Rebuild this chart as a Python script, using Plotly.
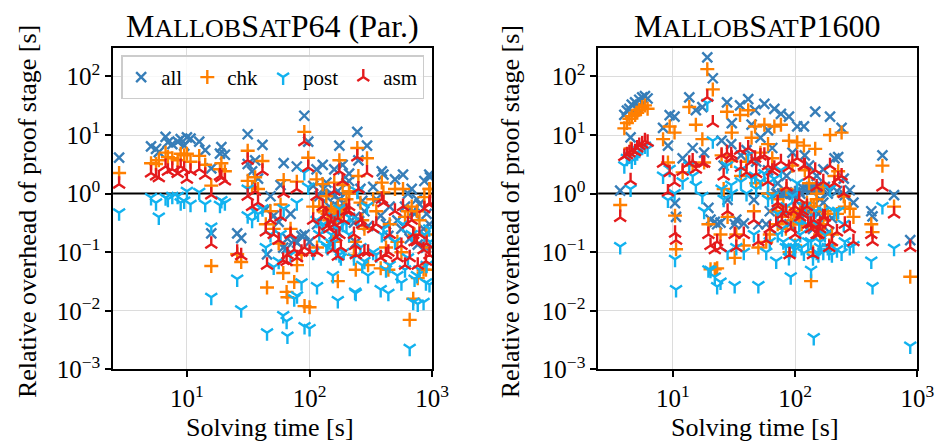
import plotly.graph_objects as go

# ---------------- data: MallobSatP64 (Par.) ----------------
p64_time = [2.8, 5.1, 5.6, 5.9, 6.7, 7.0, 7.6, 8.4, 8.9, 9.5, 10.0, 10.7, 12.6, 14.1, 15.8, 15.8, 18.6, 19.1, 20.4, 25.7, 27.7,
            31.3, 31.3, 41.3, 36, 34, 38, 44, 51, 45, 61, 65, 66, 75, 91, 100, 61.5, 78.7, 90.6, 97.5, 56, 70,
            114, 128, 159, 175, 186, 245, 294, 250, 388, 400, 497, 578, 863, 946, 634, 137, 210, 107,
            175, 269, 787, 718, 439, 561, 655, 762, 889, 238, 86, 79,
            150, 160, 170, 140, 190, 130, 210, 330, 300, 450, 520, 850, 960, 115, 170, 235, 380, 700, 950,
            120, 145, 165, 180, 200, 260, 280, 350, 420, 600, 680, 750, 900, 155, 230, 48, 58]
p64_all = [4.1, 6.4, 5.8, 5.1, 9.3, 7.5, 7.0, 7.7, 8.5, 6.6, 9.1, 8.7, 7.7, 5.5, 2.7, 0.21, 4.8, 6.2, 4.6, 0.21, 0.174,
           10.3, 3.2, 6.8, 3.7, 2.4, 1.8, 0.54, 0.42, 0.092, 0.12, 0.115, 0.17, 0.16, 0.2, 0.15, 3.3, 2.9, 21.3, 7.7, 0.33, 0.45,
           2.6, 3.1, 2.6, 6.6, 3.1, 11.3, 6.6, 3.7, 2.4, 2.1, 1.75, 2.1, 1.64, 2.1, 1.0, 1.54, 1.64, 1.35,
           0.79, 0.75, 0.66, 0.45, 0.19, 0.25, 0.17, 0.135, 0.12, 0.145, 0.19, 0.145,
           1.0, 0.9, 1.1, 0.85, 0.7, 1.2, 2.2, 1.3, 0.28, 0.6, 0.35, 0.25, 1.9, 0.3, 0.22, 0.4, 0.42, 0.5, 0.3,
           0.9, 0.6, 0.45, 0.55, 1.5, 1.2, 0.5, 0.8, 0.3, 0.6, 1.2, 0.8, 0.45, 0.35, 0.32, 0.9, 1.4]
p64_chk = [2.25, 3.3, 3.2, 3.7, 5.0, 4.2, 4.0, 3.7, 4.8, 4.5, 4.8, 3.5, 4.4, 3.1, 1.37, 0.058, 2.6, 3.3, 2.4, 0.092, 0.068,
           5.4, 1.65, 3.6, 1.9, 1.3, 1.2, 0.3, 0.25, 0.025, 0.044, 0.021, 0.017, 0.031, 0.012, 0.0115, 1.7, 1.6, 11.3, 4.1, 0.14, 0.25,
           1.75, 1.45, 1.54, 3.7, 1.4, 6.0, 4.0, 2.0, 1.54, 1.05, 1.2, 1.2, 0.87, 1.2, 0.5, 0.9, 1.0, 0.6,
           0.5, 0.35, 0.35, 0.2, 0.05, 0.1, 0.007, 0.036, 0.05, 0.05, 0.09, 0.06,
           0.55, 0.5, 0.6, 0.45, 0.55, 0.5, 1.1, 0.8, 0.06, 0.3, 0.15, 0.05, 1.2, 0.12, 0.032, 0.15, 0.053, 0.016, 0.12,
           0.6, 0.35, 0.4, 0.45, 0.8, 0.7, 0.25, 0.5, 0.12, 0.4, 0.6, 0.5, 0.2, 0.15, 0.09, 0.5, 0.65]
p64_post = [0.47, 0.86, 0.70, 0.40, 0.85, 0.80, 0.90, 0.90, 0.70, 0.75, 1.10, 0.66, 1.05, 0.66, 0.27, 0.017, 0.63, 0.76, 0.70, 0.035, 0.0104,
            1.2, 0.42, 0.55, 0.5, 0.35, 0.45, 0.12, 0.056, 0.0042, 0.0083, 0.0066, 0.0037, 0.016, 0.0054, 0.005, 0.55, 0.7, 2.3, 1.3, 0.07, 0.09,
            0.35, 0.28, 0.4, 0.55, 0.3, 1.1, 0.6, 0.35, 0.2, 0.25, 0.15, 0.3, 0.2, 0.25, 0.08, 0.13, 0.2, 0.1,
            0.09, 0.06, 0.05, 0.035, 0.02, 0.03, 0.0023, 0.013, 0.03, 0.02, 0.03, 0.018,
            0.2, 0.15, 0.25, 0.12, 0.1, 0.3, 0.4, 0.1, 0.04, 0.06, 0.04, 0.014, 0.15, 0.026, 0.015, 0.021, 0.023, 0.014, 0.028,
            0.2, 0.15, 0.1, 0.08, 0.3, 0.12, 0.07, 0.09, 0.05, 0.05, 0.2, 0.04, 0.06, 0.04, 0.08, 0.2, 0.2]
p64_asm = [1.45, 2.25, 2.0, 1.86, 2.9, 2.4, 2.6, 2.2, 2.9, 2.6, 1.75, 2.4, 2.6, 2.06, 0.95, 0.136, 2.0, 1.86, 1.64, 0.10, 0.087,
           3.7, 0.9, 2.4, 1.1, 0.6, 0.7, 0.22, 0.2, 0.06, 0.072, 0.069, 0.09, 0.11, 0.12, 0.1, 1.0, 1.2, 7.7, 2.8, 0.16, 0.2,
           0.9, 0.6, 1.1, 2.4, 1.64, 4.2, 2.25, 1.2, 0.8, 0.7, 0.5, 0.6, 0.55, 0.65, 0.3, 0.45, 0.5, 0.35,
           0.2, 0.3, 0.2, 0.15, 0.1, 0.13, 0.08, 0.06, 0.07, 0.09, 0.1, 0.08,
           0.33, 0.3, 0.38, 0.28, 0.35, 0.4, 0.6, 0.25, 0.1, 0.2, 0.08, 0.11, 0.7, 0.1, 0.085, 0.13, 0.08, 0.2, 0.09,
           0.2, 0.25, 0.18, 0.12, 0.5, 0.35, 0.1, 0.3, 0.09, 0.06, 0.35, 0.15, 0.14, 0.11, 0.2, 0.35, 0.4]

# ---------------- data: MallobSatP1600 ----------------
p1600_time = [3.7, 4.0, 4.2, 4.4, 4.6, 4.5, 4.9, 5.1, 5.3, 5.6, 5.9, 6.2, 8.3, 9.4, 10.3, 10.4, 10.6, 9.1, 13.6, 15.4,
              17.4, 19.1, 21.2, 19.5, 20.3, 22, 23, 24.5, 18, 27.7, 30.3, 28, 32, 35.4, 41.3, 44, 47, 50, 56, 60,
              67.6, 70, 76.5, 80, 89, 92, 97, 104, 110, 118, 125, 135, 142, 146, 150, 160, 175, 193, 210, 225,
              240, 255, 280, 420, 430, 518, 645, 875, 33, 38, 46, 58, 62, 72, 85, 100, 113, 128, 155, 170,
              200, 130, 120, 95, 65, 40, 25, 30, 52,
              72, 78, 84, 108, 115, 135, 160, 185, 220, 60, 48, 36, 26, 14.5, 12, 150, 170, 250, 300, 90, 140, 190, 100]
p1600_all = [1.12, 22, 26, 28, 33, 9.1, 36, 30, 40, 44, 46, 42, 13.2, 21.9, 20.6, 0.69, 0.4, 6.6, 43.9, 26.5,
             30, 212, 93, 0.57, 0.36, 0.33, 0.3, 0.32, 5.0, 36, 16, 0.78, 0.3, 32, 41, 15, 26.5, 0.3, 34, 12,
             28, 1.0, 23, 1.0, 20.6, 1.0, 0.95, 14, 1.0, 14, 1.2, 1.3, 1.3, 25, 1.2, 0.8, 1.3, 20.6, 4.0, 4.2,
             13.2, 0.94, 1.14, 0.5, 0.41, 4.5, 0.94, 0.16, 0.36, 0.31, 0.78, 0.3, 0.5, 1.5, 2.0, 1.05, 0.6, 0.5, 0.45, 0.7,
             0.38, 3.0, 4.5, 5.0, 6.0, 5.5, 8, 7, 9.0,
             1.0, 1.0, 0.98, 1.1, 1.25, 1.15, 1.2, 1.0, 1.1, 2.5, 3.5, 4.5, 3.0, 6.0, 4.0, 2.0, 2.6, 1.8, 0.7, 0.3, 0.25, 0.22, 0.4]
p1600_chk = [0.64, 13, 16, 19, 21, 5.9, 22, 24, 27, 30, 32, 28, 8.5, 14, 11, 0.42, 0.112, 3.4, 30, 15,
             8.5, 133, 60, 0.3, 0.051, 0.051, 0.053, 0.2, 3.4, 25, 11, 0.4, 0.08, 22, 26.5, 9, 14, 0.12, 15, 7,
             14, 0.5, 15, 0.6, 8, 0.45, 0.35, 7.5, 0.5, 6.6, 0.7, 0.032, 0.6, 5.8, 0.8, 0.3, 0.5, 10, 2.0, 2.4,
             11, 0.6, 0.55, 0.3, 0.22, 3.0, 0.6, 0.038, 0.2, 0.13, 0.5, 0.15, 0.2, 0.8, 1.2, 0.5, 0.3, 0.3, 0.25, 0.35,
             0.2, 1.5, 2.5, 3.0, 4.0, 3.5, 4.5, 3.6, 5.0,
             0.3, 0.4, 0.25, 0.3, 0.45, 0.6, 0.2, 0.45, 0.45, 1.0, 1.5, 2.0, 1.2, 3.0, 2.3, 1.0, 1.3, 0.9, 0.4, 0.1, 0.1, 0.13, 0.13]
p1600_post = [0.125, 3.0, 4.0, 4.4, 3.6, 1.2, 4.2, 5.0, 5.5, 6.2, 6.5, 5.8, 2.0, 2.6, 1.0, 0.076, 0.023, 0.78, 3.0, 1.38,
              0.9, 35, 8, 0.05, 0.049, 0.038, 0.026, 0.031, 0.5, 3.0, 1.0, 0.1, 0.027, 2.5, 4.5, 1.8, 2.0, 0.027, 2.2, 1.5,
              1.8, 0.071, 2.5, 0.15, 0.081, 0.038, 0.12, 1.5, 0.2, 0.097, 0.3, 0.049, 0.0035, 0.5, 0.1, 0.12, 0.2, 1.2, 0.5, 0.5,
              0.097, 0.15, 0.12, 0.071, 0.026, 0.6, 0.117, 0.0025, 0.12, 0.1, 0.2, 0.1, 0.15, 0.45, 0.6, 0.15, 0.12, 0.15, 0.09, 0.1,
              0.09, 0.4, 0.6, 0.9, 0.9, 1.0, 1.2, 1.4, 1.6,
              0.2, 0.25, 0.12, 0.3, 0.4, 0.15, 0.15, 0.12, 0.11, 0.8, 1.2, 1.6, 0.8, 2.0, 1.6, 0.3, 0.5, 0.3, 0.13, 0.12, 0.08, 0.1, 0.11]
p1600_asm = [0.39, 4.3, 4.6, 5.0, 5.5, 1.66, 5.2, 6.0, 6.6, 7.0, 8.0, 7.5, 3.3, 2.3, 1.55, 0.21, 0.16, 1.06, 3.3, 2.6,
             3.3, 44, 16, 0.2, 0.13, 0.11, 0.15, 0.12, 3.3, 5.0, 4.0, 0.5, 0.2, 5.5, 6.0, 3.5, 4.0, 0.15, 4.5, 3.0,
             2.7, 0.3, 3.5, 0.45, 2.8, 0.25, 0.5, 4, 0.4, 3.0, 0.6, 0.25, 0.35, 2.5, 0.2, 0.3, 0.4, 3.0, 1.5, 1.8,
             2.0, 0.3, 0.25, 0.2, 0.15, 1.3, 0.45, 0.12, 0.12, 0.2, 0.35, 0.16, 0.25, 0.7, 1.3, 0.6, 0.45, 0.3, 0.2, 0.4,
             0.15, 2.0, 3.0, 3.5, 2.4, 2.3, 4.5, 4.6, 4.4,
             0.6, 0.35, 0.5, 0.8, 0.5, 0.3, 0.25, 0.3, 0.22, 1.6, 2.2, 2.8, 2.0, 3.6, 2.4, 1.3, 1.6, 1.0, 0.15, 0.09, 0.09, 0.12, 0.2]

series_names = ["all", "chk", "post", "asm"]
reference_ratio = 1.0

x_tick_vals = [10, 100, 1000]
x_tick_text = ["10<sup>1</sup>", "10<sup>2</sup>", "10<sup>3</sup>"]
y_tick_vals = [1e-3, 1e-2, 1e-1, 1, 10, 100]
y_tick_text = ["10<sup>−3</sup>", "10<sup>−2</sup>", "10<sup>−1</sup>",
               "10<sup>0</sup>", "10<sup>1</sup>", "10<sup>2</sup>"]

# ---------------- styling ----------------
W, H = 944, 448
FONT = "'Liberation Serif', 'Times New Roman', serif"
colors = {"all": "#377eb8", "chk": "#ff7f00", "post": "#12b2ef", "asm": "#e41a1c"}
symbols = {"all": "x-thin", "chk": "cross-thin", "post": "y-down", "asm": "y-up"}

fig = go.Figure()

panels = [
    ("x", "y", p64_time, {"all": p64_all, "chk": p64_chk, "post": p64_post, "asm": p64_asm}, True),
    ("x2", "y2", p1600_time, {"all": p1600_all, "chk": p1600_chk, "post": p1600_post, "asm": p1600_asm}, False),
]

for xa, ya, t, series, show_leg in panels:
    fig.add_trace(go.Scatter(x=[1, 1e4], y=[reference_ratio, reference_ratio], mode="lines",
                             line=dict(color="black", width=2), xaxis=xa, yaxis=ya,
                             showlegend=False, hoverinfo="skip"))
    for name in series_names:
        fig.add_trace(go.Scatter(
            x=t, y=series[name], mode="markers", name=name, xaxis=xa, yaxis=ya,
            showlegend=show_leg, legendgroup=name,
            marker=dict(symbol=symbols[name], size=10, color=colors[name],
                        line=dict(color=colors[name], width=2.4)),
        ))

def px_x(p):
    return p / W

def px_y(p):
    return 1 - p / H

axis_common = dict(
    type="log", showline=True, linecolor="black", linewidth=1.5, mirror=True,
    ticks="outside", ticklen=6, tickwidth=1.5, tickcolor="black",
    showgrid=True, gridcolor="#dcdcdc", gridwidth=1.2, zeroline=False,
    tickfont=dict(family=FONT, size=25, color="black"),
)

ydom = [px_y(373), px_y(41)]
fig.update_layout(
    width=W, height=H,
    margin=dict(l=0, r=0, t=0, b=0),
    paper_bgcolor="white", plot_bgcolor="white",
    font=dict(family=FONT, size=24, color="black"),
    xaxis=dict(domain=[px_x(107), px_x(432)], anchor="y", range=[0.398, 3.0],
               tickvals=x_tick_vals, ticktext=x_tick_text, **axis_common),
    yaxis=dict(domain=ydom, anchor="x", range=[-3, 2.49],
               tickvals=y_tick_vals, ticktext=y_tick_text, **axis_common),
    xaxis2=dict(domain=[px_x(601), px_x(926)], anchor="y2", range=[0.388, 3.0],
                tickvals=x_tick_vals, ticktext=x_tick_text, **axis_common),
    yaxis2=dict(domain=ydom, anchor="x2", range=[-3, 2.49],
                tickvals=y_tick_vals, ticktext=y_tick_text, **axis_common),
    legend=dict(orientation="h", x=px_x(269.5), xanchor="center", y=px_y(49), yanchor="top",
                bgcolor="rgba(255,255,255,0.8)", bordercolor="#cccccc", borderwidth=1.5,
                font=dict(family=FONT, size=21), itemwidth=30, tracegroupgap=0),
    showlegend=True,
)

sc = "font-size:26px"
title_left = f"M<span style='{sc}'>ALLOB</span>S<span style='{sc}'>AT</span>P64 (Par.)"
title_right = f"M<span style='{sc}'>ALLOB</span>S<span style='{sc}'>AT</span>P1600"

annotations = [
    dict(text=title_left, x=px_x(269.5), y=px_y(19), xanchor="center", yanchor="middle", font=dict(size=32)),
    dict(text=title_right, x=px_x(763.5), y=px_y(19), xanchor="center", yanchor="middle", font=dict(size=32)),
    dict(text="Solving time [s]", x=px_x(267), y=px_y(433), xanchor="center", yanchor="middle", font=dict(size=26)),
    dict(text="Solving time [s]", x=px_x(761), y=px_y(433), xanchor="center", yanchor="middle", font=dict(size=26)),
    dict(text="Relative overhead of proof stage [s]", x=px_x(20), y=px_y(210), textangle=-90,
         xanchor="center", yanchor="middle", font=dict(size=26)),
    dict(text="Relative overhead of proof stage [s]", x=px_x(512), y=px_y(210), textangle=-90,
         xanchor="center", yanchor="middle", font=dict(size=26)),
]
for a in annotations:
    a.update(xref="paper", yref="paper", showarrow=False)
    a["font"].update(family=FONT, color="black")
fig.update_layout(annotations=annotations)

fig.write_html("out.html")
